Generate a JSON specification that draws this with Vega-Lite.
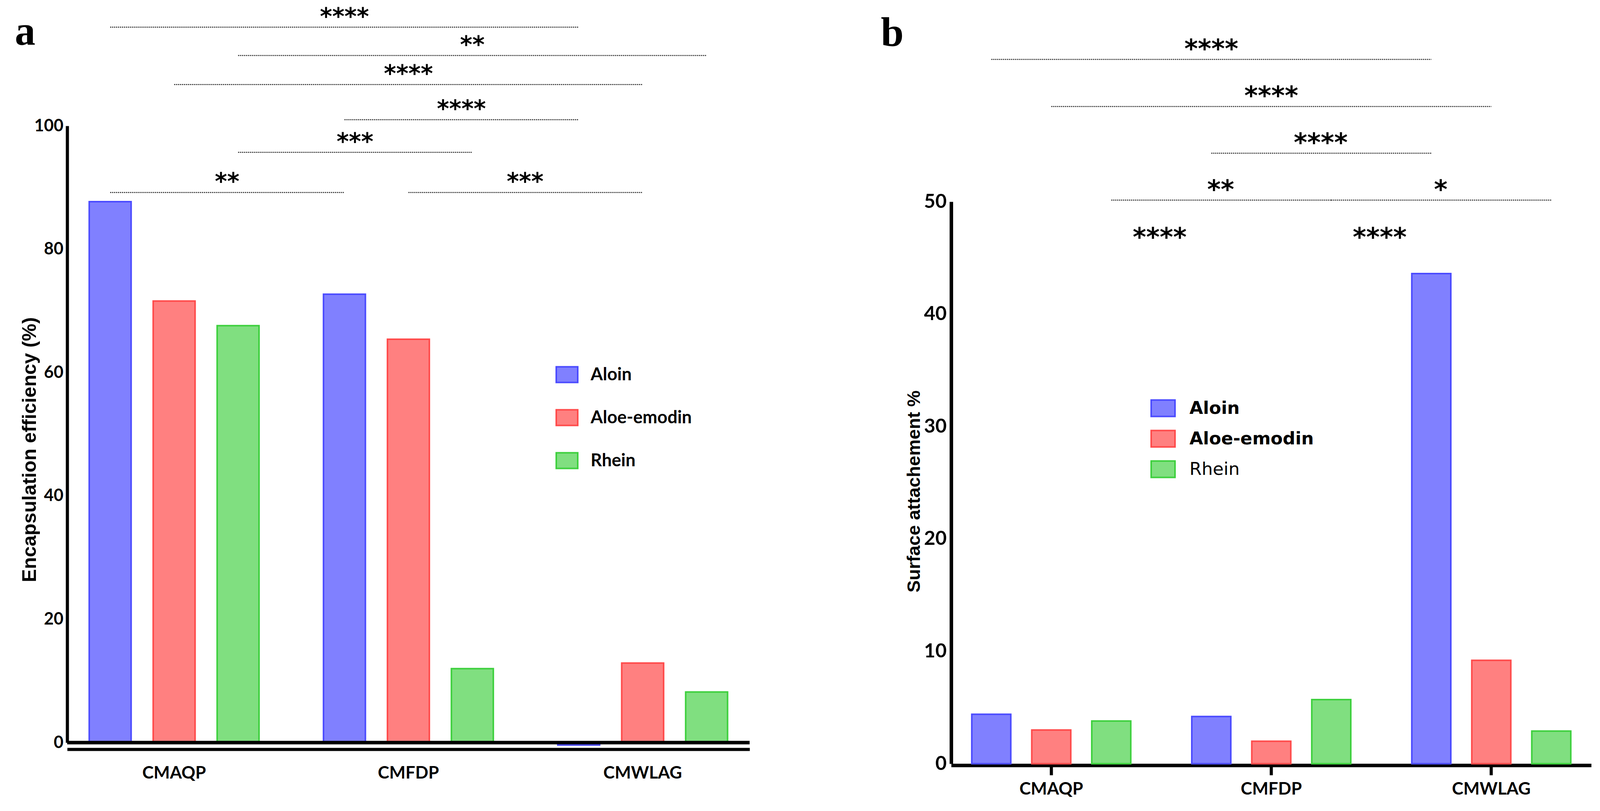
{
  "$schema": "https://vega.github.io/schema/vega-lite/v6.json",
  "background": "white",
  "padding": {"left": 38, "top": 14, "right": 0, "bottom": 0},
  "config": {
    "view": {"stroke": null},
    "axis": {"labelFont": "Lato", "labelFontWeight": "bold", "labelColor": "black", "domainColor": "black", "tickColor": "black", "titleColor": "black", "grid": false, "titleFont": "Liberation Sans", "titleFontWeight": "bold", "labelLimit": 1000, "labelOverlap": false}
  },
  "datasets": {
    "ee": [
      {"formulation": "CMAQP", "compound": "Aloin", "value": 87.7},
      {"formulation": "CMAQP", "compound": "Aloe-emodin", "value": 71.6},
      {"formulation": "CMAQP", "compound": "Rhein", "value": 67.6},
      {"formulation": "CMFDP", "compound": "Aloin", "value": 72.7},
      {"formulation": "CMFDP", "compound": "Aloe-emodin", "value": 65.4},
      {"formulation": "CMFDP", "compound": "Rhein", "value": 12.0},
      {"formulation": "CMWLAG", "compound": "Aloin", "value": -0.4},
      {"formulation": "CMWLAG", "compound": "Aloe-emodin", "value": 12.9},
      {"formulation": "CMWLAG", "compound": "Rhein", "value": 8.2}
    ],
    "sa": [
      {"formulation": "CMAQP", "compound": "Aloin", "value": 4.4},
      {"formulation": "CMAQP", "compound": "Aloe-emodin", "value": 3.0},
      {"formulation": "CMAQP", "compound": "Rhein", "value": 3.8},
      {"formulation": "CMFDP", "compound": "Aloin", "value": 4.2},
      {"formulation": "CMFDP", "compound": "Aloe-emodin", "value": 2.0},
      {"formulation": "CMFDP", "compound": "Rhein", "value": 5.7},
      {"formulation": "CMWLAG", "compound": "Aloin", "value": 43.6},
      {"formulation": "CMWLAG", "compound": "Aloe-emodin", "value": 9.2},
      {"formulation": "CMWLAG", "compound": "Rhein", "value": 2.9}
    ],
    "ee_lines": [
      {"id": "a1", "formulation": "CMAQP", "compound": "Aloin", "level": 116.0},
      {"id": "a1", "formulation": "CMWLAG", "compound": "Aloin", "level": 116.0},
      {"id": "a2", "formulation": "CMAQP", "compound": "Rhein", "level": 111.4},
      {"id": "a2", "formulation": "CMWLAG", "compound": "Rhein", "level": 111.4},
      {"id": "a3", "formulation": "CMAQP", "compound": "Aloe-emodin", "level": 106.7},
      {"id": "a3", "formulation": "CMWLAG", "compound": "Aloe-emodin", "level": 106.7},
      {"id": "a4", "formulation": "CMFDP", "compound": "Aloin", "level": 101.0},
      {"id": "a4", "formulation": "CMWLAG", "compound": "Aloin", "level": 101.0},
      {"id": "a5", "formulation": "CMAQP", "compound": "Rhein", "level": 95.7},
      {"id": "a5", "formulation": "CMFDP", "compound": "Rhein", "level": 95.7},
      {"id": "a6", "formulation": "CMAQP", "compound": "Aloin", "level": 89.2},
      {"id": "a6", "formulation": "CMFDP", "compound": "Aloin", "level": 89.2},
      {"id": "a7", "formulation": "CMFDP", "compound": "Aloe-emodin", "level": 89.2},
      {"id": "a7", "formulation": "CMWLAG", "compound": "Aloe-emodin", "level": 89.2}
    ],
    "sa_lines": [
      {"id": "b1", "formulation": "CMAQP", "compound": "Aloin", "level": 62.66},
      {"id": "b1", "formulation": "CMWLAG", "compound": "Aloin", "level": 62.66},
      {"id": "b2", "formulation": "CMAQP", "compound": "Aloe-emodin", "level": 58.47},
      {"id": "b2", "formulation": "CMWLAG", "compound": "Aloe-emodin", "level": 58.47},
      {"id": "b3", "formulation": "CMFDP", "compound": "Aloin", "level": 54.31},
      {"id": "b3", "formulation": "CMWLAG", "compound": "Aloin", "level": 54.31},
      {"id": "b4", "formulation": "CMAQP", "compound": "Rhein", "level": 50.14},
      {"id": "b4", "formulation": "CMFDP", "compound": "Rhein", "level": 50.14},
      {"id": "b5", "formulation": "CMFDP", "compound": "Rhein", "level": 50.14},
      {"id": "b5", "formulation": "CMWLAG", "compound": "Rhein", "level": 50.14}
    ],
    "ee_stars_c": [
      {"label": "****", "formulation": "CMFDP", "compound": "Aloin", "level": 116.0},
      {"label": "**", "formulation": "CMFDP", "compound": "Rhein", "level": 111.4},
      {"label": "****", "formulation": "CMFDP", "compound": "Aloe-emodin", "level": 106.7}
    ],
    "ee_stars_l": [
      {"label": "****", "formulation": "CMFDP", "compound": "Rhein", "level": 101.0},
      {"label": "**", "formulation": "CMAQP", "compound": "Rhein", "level": 89.2}
    ],
    "ee_stars_r": [
      {"label": "***", "formulation": "CMFDP", "compound": "Aloin", "level": 95.7}
    ],
    "ee_stars_g": [
      {"label": "***", "formulation": "CMFDP", "compound": "Rhein", "level": 89.2}
    ],
    "sa_stars_c": [
      {"label": "****", "formulation": "CMFDP", "compound": "Aloin", "level": 62.66},
      {"label": "****", "formulation": "CMFDP", "compound": "Aloe-emodin", "level": 58.47}
    ],
    "sa_stars_l": [
      {"label": "****", "formulation": "CMFDP", "compound": "Rhein", "level": 54.31}
    ],
    "sa_stars_r": [
      {"label": "**", "formulation": "CMFDP", "compound": "Aloin", "level": 50.14},
      {"label": "*", "formulation": "CMWLAG", "compound": "Aloin", "level": 50.14}
    ],
    "sa_stars_g": [
      {"label": "****", "formulation": "CMAQP", "compound": "Rhein", "level": 45.9},
      {"label": "****", "formulation": "CMFDP", "compound": "Rhein", "level": 45.9}
    ]
  },
  "bounds": "flush",
  "spacing": 516,
  "resolve": {
    "scale": {"x": "independent", "y": "independent", "xOffset": "independent", "fill": "independent", "stroke": "independent"},
    "legend": {"fill": "independent", "stroke": "independent"},
    "axis": {"x": "independent", "y": "independent"}
  },
  "hconcat": [
    {
      "width": 1747,
      "height": 1578,
      "title": {"text": "a", "anchor": "start", "frame": "group", "font": "Liberation Serif", "fontSize": 105, "fontWeight": "bold", "color": "black", "baseline": "alphabetic", "dx": -134, "offset": -204},
      "layer": [
        {
          "data": {"name": "ee"},
          "mark": {"type": "bar", "strokeWidth": 4},
          "encoding": {
            "x": {"field": "formulation", "type": "nominal", "scale": {"paddingInner": 0.181, "paddingOuter": 0.047},
              "axis": {"title": null, "orient": "bottom", "offset": 17, "domainWidth": 8, "ticks": false, "tickSize": 0, "labelPadding": 39, "labelFontSize": 44, "labelAngle": 0, "labelLimit": 1000}},
            "xOffset": {"field": "compound", "type": "nominal", "scale": {"domain": ["Aloin", "Aloe-emodin", "Rhein"], "paddingInner": 0.345, "paddingOuter": 0.1725}},
            "y": {"field": "value", "type": "quantitative", "scale": {"domain": [0, 100], "nice": false},
              "axis": {"title": "Encapsulation efficiency (%)", "values": [0, 20, 40, 60, 80, 100], "domainWidth": 8, "ticks": false, "tickSize": 0, "labelPadding": 10, "labelFontSize": 43, "titleFontSize": 50, "titlePadding": -14, "titleY": 828}},
            "fill": {"field": "compound", "type": "nominal", "scale": {"domain": ["Aloin", "Aloe-emodin", "Rhein"], "range": ["#8080FF", "#FF8080", "#80DF80"]},
              "legend": {"orient": "none", "legendX": 1250, "legendY": 607, "title": null, "direction": "vertical", "symbolType": "M-1,-0.727L1,-0.727L1,0.727L-1,0.727Z", "symbolSize": 3025, "symbolStrokeWidth": 4, "labelFont": "Lato", "labelFontWeight": "bold", "labelFontSize": 45, "labelColor": "black", "labelOffset": 31, "labelLimit": 800, "rowPadding": 52, "padding": 0}},
            "stroke": {"field": "compound", "type": "nominal", "scale": {"domain": ["Aloin", "Aloe-emodin", "Rhein"], "range": ["#4B4BFF", "#FF4B4B", "#3ED03E"]},
              "legend": {"orient": "none", "legendX": 1250, "legendY": 607, "title": null, "direction": "vertical", "symbolType": "M-1,-0.727L1,-0.727L1,0.727L-1,0.727Z", "symbolSize": 3025, "symbolStrokeWidth": 4, "labelFont": "Lato", "labelFontWeight": "bold", "labelFontSize": 45, "labelColor": "black", "labelOffset": 31, "labelLimit": 800, "rowPadding": 52, "padding": 0}}
          }
        },
        {
          "data": {"values": [{}]},
          "mark": {"type": "rule", "strokeWidth": 9, "color": "black"},
          "encoding": {"y": {"datum": 0}}
        },
        {
          "data": {"name": "ee_lines"},
          "mark": {"type": "line", "strokeWidth": 2.5, "strokeDash": [3, 2], "color": "#222222"},
          "encoding": {
            "x": {"field": "formulation", "type": "nominal"},
            "xOffset": {"field": "compound", "type": "nominal"},
            "y": {"field": "level", "type": "quantitative"},
            "detail": {"field": "id"}
          }
        },
        {
          "data": {"name": "ee_stars_c"},
          "mark": {"type": "text", "font": "DejaVu Sans", "fontWeight": "bold", "fontSize": 60, "baseline": "alphabetic", "dy": -7, "color": "black"},
          "encoding": {"x": {"field": "formulation", "type": "nominal"}, "xOffset": {"field": "compound", "type": "nominal"}, "y": {"field": "level", "type": "quantitative"}, "text": {"field": "label"}}
        },
        {
          "data": {"name": "ee_stars_l"},
          "mark": {"type": "text", "font": "DejaVu Sans", "fontWeight": "bold", "fontSize": 60, "baseline": "alphabetic", "dy": -7, "dx": -28, "color": "black"},
          "encoding": {"x": {"field": "formulation", "type": "nominal"}, "xOffset": {"field": "compound", "type": "nominal"}, "y": {"field": "level", "type": "quantitative"}, "text": {"field": "label"}}
        },
        {
          "data": {"name": "ee_stars_r"},
          "mark": {"type": "text", "font": "DejaVu Sans", "fontWeight": "bold", "fontSize": 60, "baseline": "alphabetic", "dy": -7, "dx": 27, "color": "black"},
          "encoding": {"x": {"field": "formulation", "type": "nominal"}, "xOffset": {"field": "compound", "type": "nominal"}, "y": {"field": "level", "type": "quantitative"}, "text": {"field": "label"}}
        },
        {
          "data": {"name": "ee_stars_g"},
          "mark": {"type": "text", "font": "DejaVu Sans", "fontWeight": "bold", "fontSize": 60, "baseline": "alphabetic", "dy": -7, "dx": 135, "color": "black"},
          "encoding": {"x": {"field": "formulation", "type": "nominal"}, "xOffset": {"field": "compound", "type": "nominal"}, "y": {"field": "level", "type": "quantitative"}, "text": {"field": "label"}}
        }
      ]
    },
    {
      "bounds": "flush",
      "spacing": 0,
      "resolve": {
        "scale": {"x": "independent", "y": "independent", "xOffset": "independent", "fill": "independent", "stroke": "independent"},
        "legend": {"fill": "independent", "stroke": "independent"}
      },
      "vconcat": [
        {
          "width": 1639,
          "height": 194,
          "data": {"values": []},
          "mark": {"type": "point", "opacity": 0},
          "encoding": {}
        },
        {
          "width": 1639,
          "height": 1438,
          "title": {"text": "b", "anchor": "start", "frame": "group", "font": "Liberation Serif", "fontSize": 105, "fontWeight": "bold", "color": "black", "baseline": "alphabetic", "dx": -180, "offset": -129},
          "layer": [
            {
              "data": {"name": "sa"},
              "mark": {"type": "bar", "strokeWidth": 4},
              "encoding": {
                "x": {"field": "formulation", "type": "nominal", "scale": {"paddingInner": 0.182, "paddingOuter": 0.046},
                  "axis": {"title": null, "orient": "bottom", "offset": 4, "domainWidth": 9, "ticks": true, "tickSize": 25, "tickWidth": 8, "labelPadding": 14, "labelFontSize": 44, "labelAngle": 0, "labelLimit": 1000}},
                "xOffset": {"field": "compound", "type": "nominal", "scale": {"domain": ["Aloin", "Aloe-emodin", "Rhein"], "paddingInner": 0.35, "paddingOuter": 0.175}},
                "y": {"field": "value", "type": "quantitative", "scale": {"domain": [0, 50], "nice": false},
                  "axis": {"title": "Surface attachement %", "values": [0, 10, 20, 30, 40, 50], "domainWidth": 9, "ticks": false, "tickSize": 0, "labelPadding": 12, "labelFontSize": 50, "titleFontSize": 47, "titlePadding": 0, "titleY": 741}},
                "fill": {"field": "compound", "type": "nominal", "scale": {"domain": ["Aloin", "Aloe-emodin", "Rhein"], "range": ["#8080FF", "#FF8080", "#80DF80"]},
                  "legend": {"orient": "none", "legendX": 510, "legendY": 496, "title": null, "direction": "vertical", "symbolType": "M-1,-0.69L1,-0.69L1,0.69L-1,0.69Z", "symbolSize": 3721, "symbolStrokeWidth": 4, "labelFont": "DejaVu Sans", "labelFontWeight": {"expr": "datum.label == 'Rhein' ? 'normal' : 'bold'"}, "labelFontSize": 45, "labelColor": "black", "labelOffset": 35, "labelLimit": 800, "rowPadding": 16, "padding": 0}},
                "stroke": {"field": "compound", "type": "nominal", "scale": {"domain": ["Aloin", "Aloe-emodin", "Rhein"], "range": ["#4B4BFF", "#FF4B4B", "#3ED03E"]},
                  "legend": {"orient": "none", "legendX": 510, "legendY": 496, "title": null, "direction": "vertical", "symbolType": "M-1,-0.69L1,-0.69L1,0.69L-1,0.69Z", "symbolSize": 3721, "symbolStrokeWidth": 4, "labelFont": "DejaVu Sans", "labelFontWeight": {"expr": "datum.label == 'Rhein' ? 'normal' : 'bold'"}, "labelFontSize": 45, "labelColor": "black", "labelOffset": 35, "labelLimit": 800, "rowPadding": 16, "padding": 0}}
              }
            },
            {
              "data": {"name": "sa_lines"},
              "mark": {"type": "line", "strokeWidth": 2.5, "strokeDash": [3, 2], "color": "#222222"},
              "encoding": {
                "x": {"field": "formulation", "type": "nominal"},
                "xOffset": {"field": "compound", "type": "nominal"},
                "y": {"field": "level", "type": "quantitative"},
                "detail": {"field": "id"}
              }
            },
            {
              "data": {"name": "sa_stars_c"},
              "mark": {"type": "text", "font": "DejaVu Sans", "fontWeight": "bold", "fontSize": 66, "baseline": "alphabetic", "dy": -5, "color": "black"},
              "encoding": {"x": {"field": "formulation", "type": "nominal"}, "xOffset": {"field": "compound", "type": "nominal"}, "y": {"field": "level", "type": "quantitative"}, "text": {"field": "label"}}
            },
            {
              "data": {"name": "sa_stars_l"},
              "mark": {"type": "text", "font": "DejaVu Sans", "fontWeight": "bold", "fontSize": 66, "baseline": "alphabetic", "dy": -5, "dx": -27, "color": "black"},
              "encoding": {"x": {"field": "formulation", "type": "nominal"}, "xOffset": {"field": "compound", "type": "nominal"}, "y": {"field": "level", "type": "quantitative"}, "text": {"field": "label"}}
            },
            {
              "data": {"name": "sa_stars_r"},
              "mark": {"type": "text", "font": "DejaVu Sans", "fontWeight": "bold", "fontSize": 66, "baseline": "alphabetic", "dy": -5, "dx": 24, "color": "black"},
              "encoding": {"x": {"field": "formulation", "type": "nominal"}, "xOffset": {"field": "compound", "type": "nominal"}, "y": {"field": "level", "type": "quantitative"}, "text": {"field": "label"}}
            },
            {
              "data": {"name": "sa_stars_g"},
              "mark": {"type": "text", "font": "DejaVu Sans", "fontWeight": "bold", "fontSize": 66, "baseline": "alphabetic", "dy": -5, "dx": 124, "color": "black"},
              "encoding": {"x": {"field": "formulation", "type": "nominal"}, "xOffset": {"field": "compound", "type": "nominal"}, "y": {"field": "level", "type": "quantitative"}, "text": {"field": "label"}}
            }
          ]
        }
      ]
    }
  ]
}
